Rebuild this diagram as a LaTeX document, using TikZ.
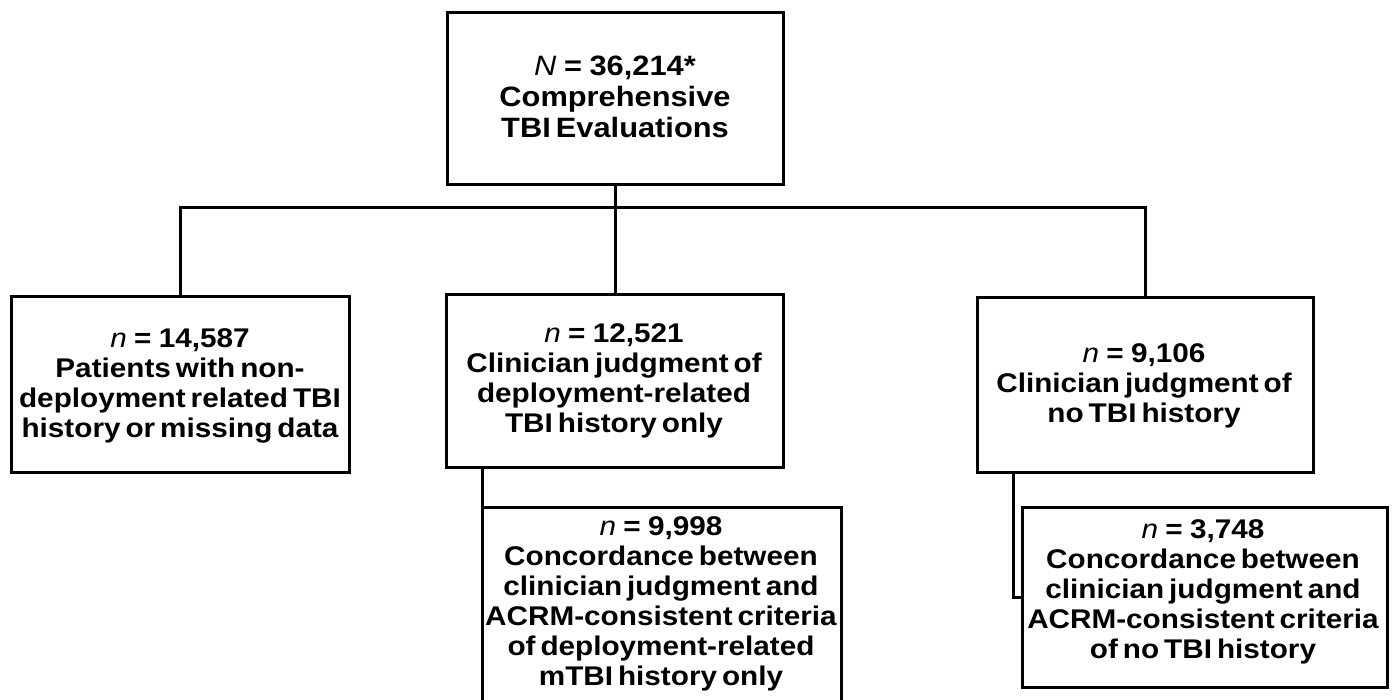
\documentclass[tikz,border=0pt]{standalone}
\usepackage{fontspec}
\setmainfont{Liberation Sans}[FakeStretch=1.1,WordSpace=0.6]
\newcommand\firstln[2]{\rule{0pt}{20pt}{\mdseries\textit{#1}}\hspace{0.27em}=\hspace{0.27em}#2}
\tikzset{
  box/.style={draw, line width=3pt, inner sep=0pt, outer sep=0pt},
  lbl/.style={font=\fontsize{27}{30}\selectfont\bfseries, align=center, inner sep=0pt, anchor=north},
  wire/.style={line width=3pt},
}
\begin{document}
\begin{tikzpicture}[x=1pt,y=-1pt]
\useasboundingbox (0,0) rectangle (1397,700);
\clip (0,0) rectangle (1397,700);
% boxes
\node[box, minimum width=336pt, minimum height=172pt] (top) at (615,99) {};
\node[box, minimum width=338pt, minimum height=175pt] (left) at (180,384.5) {};
\node[box, minimum width=337pt, minimum height=172pt] (mid) at (615,381) {};
\node[box, minimum width=359pt, minimum height=205pt] (midsub) at (661.5,609.5) {};
\node[box, minimum width=336pt, minimum height=174pt] (right) at (1145,385) {};
\node[box, minimum width=365pt, minimum height=180pt] (rsub) at (1204.5,597) {};
% texts
\node[lbl, font=\fontsize{28}{31}\selectfont\bfseries] (ttop) at (615,55) {\firstln{N}{36,214*}\\Comprehensive\\TBI Evaluations};
\node[lbl] (tleft) at (180,327) {\firstln{n}{14,587}\\Patients with non-\\deployment related TBI\\history or missing data};
\node[lbl] (tmid) at (614,322) {\firstln{n}{12,521}\\Clinician judgment of\\deployment-related\\TBI history only};
\node[lbl] (tmidsub) at (661,515) {\firstln{n}{9,998}\\Concordance between\\clinician judgment and\\ACRM-consistent criteria\\of deployment-related\\mTBI history only};
\node[lbl] (tright) at (1144,342) {\firstln{n}{9,106}\\Clinician judgment of\\no TBI history};
\node[lbl] (trsub) at (1203,518) {\firstln{n}{3,748}\\Concordance between\\clinician judgment and\\ACRM-consistent criteria\\of no TBI history};
% connectors
\coordinate (hl) at (180,208);
\coordinate (rk) at (1013,597);
\draw[wire] (top.south) -- (mid.north);
\draw[wire] (left.north) -- (left.north |- hl) -- (right.north |- hl) -- (right.north);
\draw[wire] (mid.south -| midsub.west) -- (midsub.north west);
\draw[wire] (right.south -| rk) -- (rk) -- (rsub.west);
\end{tikzpicture}
\end{document}
